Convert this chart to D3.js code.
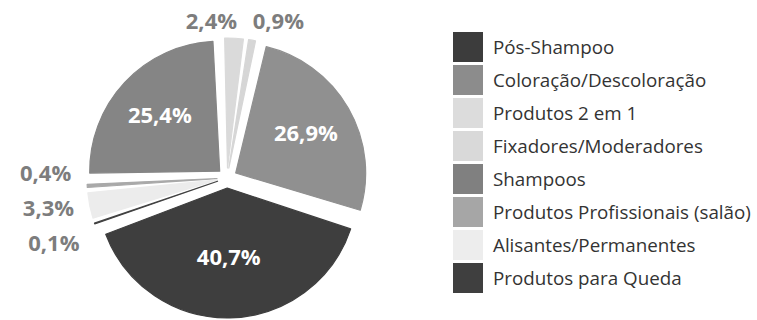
<!DOCTYPE html>
<html>
<head>
<meta charset="utf-8">
<script src="https://cdn.jsdelivr.net/npm/d3@7"></script>
<style>
  body { margin: 0; background: #fff; }
  svg { display: block; }
</style>
</head>
<body>
<div id="chart"></div>
<script>
// categories in data order (drawn counter-clockwise, like the original)
const categories = [
    "Pós-Shampoo",
    "Coloração/Descoloração",
    "Produtos 2 em 1",
    "Fixadores/Moderadores",
    "Shampoos",
    "Produtos Profissionais (salão)",
    "Alisantes/Permanentes",
    "Produtos para Queda"
]
const values = [40.7, 26.9, 0.9, 2.4, 25.4, 0.4, 3.3, 0.1]
const sliceColors = ["#3e3e3e","#909090","#d6d6d6","#dadada","#858585","#a9a9a9","#ececec","#424242"]
const legendColors = ["#3c3c3c","#8c8c8c","#dcdcdc","#d9d9d9","#808080","#a6a6a6","#ededed","#3f3f3f"]

const width = 757, height = 320
const cx = 227, cy = 178
const radius = 130
const explode = 10

const svg = d3.select("#chart")
    .append("svg")
    .attr("width", width)
    .attr("height", height)

// pt-BR number format
const ptBR = d3.formatLocale({decimal: ",", thousands: ".", grouping: [3], currency: ["R$ ", ""]})
const fmt = v => ptBR.format(".1f")(v) + "%"

const start = 250 * Math.PI / 180
const pie = d3.pie()
    .sort(null)
    .value(d => d.value)
    .startAngle(start)
    .endAngle(start - 2 * Math.PI)
    .padAngle(0.03)

const data = categories.map((c, i) => ({name: c, value: values[i], color: sliceColors[i]}))
const arcs = pie(data)

const arc = d3.arc()
    .innerRadius(0)
    .outerRadius(radius)
    .padRadius(radius)

const mid = d => (d.startAngle + d.endAngle) / 2
const offset = (d, r) => [r * Math.sin(mid(d)), -r * Math.cos(mid(d))]

const g = svg.append("g")
    .attr("transform", `translate(${cx},${cy})`)

// slices, each pushed out along its middle angle
g.selectAll("path.slice")
    .data(arcs)
    .join("path")
    .attr("class", "slice")
    .attr("transform", d => `translate(${offset(d, explode)})`)
    .attr("d", arc)
    .attr("fill", d => d.data.color)
    .attr("stroke", d => d.data.color)
    .attr("stroke-width", 1.2)
    .attr("stroke-linejoin", "round")

// labels inside big slices, near the centroid of the sector
const big = arcs.filter(d => d.data.value >= 10)
const centroidR = d => {
    const t = Math.abs(d.endAngle - d.startAngle)
    return 1.05 * 2 * radius * Math.sin(t / 2) / (1.5 * t)
}

g.selectAll("text.inside")
    .data(big)
    .join("text")
    .attr("class", "inside")
    .attr("transform", d => {
        const [x, y] = offset(d, centroidR(d) + explode)
        return `translate(${x},${y})`
    })
    .attr("text-anchor", "middle")
    .attr("dy", "0.36em")
    .style("font-family", "'Open Sans', sans-serif")
    .style("font-weight", "bold")
    .style("font-size", "22px")
    .style("fill", "#fff")
    .text(d => fmt(d.data.value))

// labels outside small slices, spread so they do not overlap
const small = arcs.filter(d => d.data.value < 10).map(d => {
    const [x, y] = offset(d, radius + explode + 16)
    const top = Math.cos(mid(d)) > 0.8
    return {d, x, y, top}
})

function spread(items, key, gap){
    items.sort((a, b) => a[key] - b[key])
    const orig = items.map(it => it[key])
    const pos = orig.slice()
    for (let i = 1; i < pos.length; i++) pos[i] = Math.max(pos[i], pos[i-1] + gap)
    const shift = d3.mean(orig) - d3.mean(pos)
    items.forEach((it, i) => it[key] = pos[i] + shift)
}

const topLabels = small.filter(s => s.top)
const sideLabels = small.filter(s => !s.top)
spread(topLabels, "x", 67)
spread(sideLabels, "y", 35)
topLabels.forEach(s => s.y = -radius - explode - 17)

g.selectAll("text.outside")
    .data(small)
    .join("text")
    .attr("class", "outside")
    .attr("x", s => s.x)
    .attr("y", s => s.y)
    .attr("text-anchor", s => s.top ? "middle" : "end")
    .attr("dy", "0.36em")
    .style("font-family", "'Open Sans', sans-serif")
    .style("font-weight", "bold")
    .style("font-size", "22px")
    .style("fill", "#7d7d7d")
    .text(s => fmt(s.d.data.value))

// legend
const y = d3.scaleBand()
    .domain(categories)
    .range([32, 296])

const legend = svg.append("g")
    .attr("transform", "translate(453,0)")

legend.selectAll("rect")
    .data(categories)
    .join("rect")
    .attr("x", 0)
    .attr("y", d => y(d))
    .attr("width", 30)
    .attr("height", 30)
    .attr("fill", (d, i) => legendColors[i])

legend.selectAll("text")
    .data(categories)
    .join("text")
    .attr("x", 40)
    .attr("y", d => y(d) + 15)
    .attr("dy", "0.35em")
    .text(d => d)
    .style("font-family", "'Open Sans', sans-serif")
    .style("font-size", "18.8px")
    .style("fill", "#333")
</script>
</body>
</html>
